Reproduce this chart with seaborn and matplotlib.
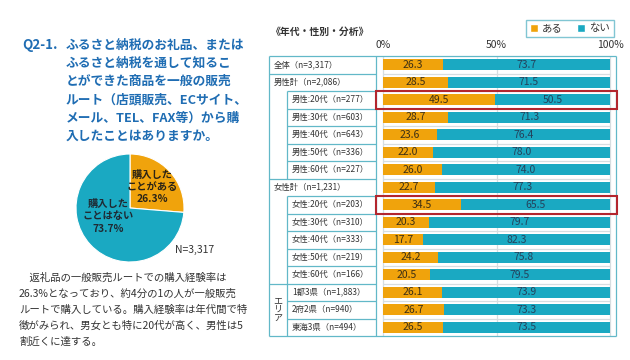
import matplotlib
matplotlib.use('Agg')
import matplotlib.pyplot as plt
from matplotlib.patches import Rectangle, Patch
import pandas as pd
import seaborn as sns

# ---------------- data ----------------
categories = ['全体（n=3,317）', '男性計（n=2,086）',
              '男性:20代（n=277）', '男性:30代（n=603）', '男性:40代（n=643）',
              '男性:50代（n=336）', '男性:60代（n=227）',
              '女性計（n=1,231）',
              '女性:20代（n=203）', '女性:30代（n=310）', '女性:40代（n=333）',
              '女性:50代（n=219）', '女性:60代（n=166）',
              '1都3県（n=1,883）', '2府2県（n=940）', '東海3県（n=494）']
aru = [26.3, 28.5, 49.5, 28.7, 23.6, 22.0, 26.0, 22.7, 34.5, 20.3, 17.7, 24.2, 20.5, 26.1, 26.7, 26.5]
nai = [73.7, 71.5, 50.5, 71.3, 76.4, 78.0, 74.0, 77.3, 65.5, 79.7, 82.3, 75.8, 79.5, 73.9, 73.3, 73.5]
groups = ['全体', '男性', '男性', '男性', '男性', '男性', '男性',
          '女性', '女性', '女性', '女性', '女性', '女性',
          'エリア', 'エリア', 'エリア']
indent = [0, 0, 1, 1, 1, 1, 1, 0, 1, 1, 1, 1, 1, 1, 1, 1]
highlight_rows = ['男性:20代（n=277）', '女性:20代（n=203）']
series_names = ['ある', 'ない']
tick_values = [0, 50, 100]
tick_labels = ['0%', '50%', '100%']
area_label = 'エリア'
chart_title = '《年代・性別・分析》'

pie_values = [26.3, 73.7]
pie_labels = ['購入した\nことがある\n26.3%', '購入した\nことはない\n73.7%']
pie_n = 'N=3,317'

question_prefix = 'Q2-1.'
question_lines = ['ふるさと納税のお礼品、または',
                  'ふるさと納税を通して知るこ',
                  'とができた商品を一般の販売',
                  'ルート（店頭販売、ECサイト、',
                  'メール、TEL、FAX等）から購',
                  '入したことはありますか。']
body_lines = ['\u3000返礼品の一般販売ルートでの購入経験率は',
              '26.3%となっており、約4分の1の人が一般販売',
              'ルートで購入している。購入経験率は年代間で特',
              '徴がみられ、男女とも特に20代が高く、男性は5',
              '割近くに達する。']

# ---------------- style ----------------
ORANGE = '#f0a30c'
TEAL = '#1aa9c2'
LINE = '#62b8c8'
RED = '#b3262e'
GRID = '#d6dde0'
TXT = '#333333'
BLUE = '#1f6db3'

sns.set_theme(style='white')
plt.rcParams['font.family'] = ['Noto Sans CJK JP', 'DejaVu Sans']

W, H = 630, 360
fig = plt.figure(figsize=(6.3, 3.6), dpi=100)
fig.patch.set_facecolor('white')


def fx(x):
    return x / W


def fy(y):
    return 1 - y / H


# table geometry (pixels)
T_LEFT, T_DIV, T_RIGHT = 269, 376, 616
T_TOP, T_BOT = 56, 336
X0, X100 = 383, 610
n = len(categories)
row_h = (T_BOT - T_TOP) / n
ppu = (X100 - X0) / 100.0
xmin = (T_DIV - X0) / ppu
xmax = (T_RIGHT - X0) / ppu

# ---------------- bar chart ----------------
ax = fig.add_axes([fx(T_DIV), fy(T_BOT), (T_RIGHT - T_DIV) / W, (T_BOT - T_TOP) / H])
df = pd.DataFrame({'label': categories, series_names[0]: aru, series_names[1]: nai})
df['total'] = df[series_names[0]] + df[series_names[1]]
sns.barplot(data=df, y='label', x='total', color=TEAL, saturation=1, width=0.63,
            linewidth=0, orient='h', ax=ax, zorder=2)
sns.barplot(data=df, y='label', x=series_names[0], color=ORANGE, saturation=1, width=0.63,
            linewidth=0, orient='h', ax=ax, zorder=3)
ax.set_xlim(xmin, xmax)
ax.set_ylim(n - 0.5, -0.5)
ax.set_facecolor('none')
for s in ax.spines.values():
    s.set_visible(False)
for v in tick_values:
    ax.axvline(v, color=GRID, lw=0.9, zorder=1)
for i in range(n - 1):
    ax.plot([0, 100], [i + 0.5, i + 0.5], color=GRID, lw=0.9, zorder=1)
ax.set_yticks([])
ax.xaxis.tick_top()
ax.set_xticks(tick_values)
ax.set_xticklabels(tick_labels, fontsize=7.5, color=TXT)
ax.tick_params(axis='x', length=0, pad=4)
ax.set_xlabel('')
ax.set_ylabel('')

for i, (a, b) in enumerate(zip(aru, nai)):
    ax.text(a / 2, i, f'{a:.1f}', ha='center', va='center', fontsize=7.5,
            color='#3d2f14', zorder=5)
    ax.text(a + b / 2, i, f'{b:.1f}', ha='center', va='center', fontsize=7.5,
            color='#24425c', zorder=5)

# ---------------- pie ----------------
PC_X, PC_Y, PR = 130, 208, 54
pax = fig.add_axes([fx(PC_X - PR), fy(PC_Y + PR), 2 * PR / W, 2 * PR / H])
pax.pie(pie_values, colors=[ORANGE, TEAL], startangle=90, counterclock=False,
        wedgeprops=dict(edgecolor='white', linewidth=0.8))
pax.set_xlim(-1, 1)
pax.set_ylim(-1, 1)
pax.set_aspect('equal')
pax.axis('off')

# ---------------- overlay (text & table lines) ----------------
ov = fig.add_axes([0, 0, 1, 1])
ov.set_xlim(0, W)
ov.set_ylim(H, 0)
ov.axis('off')
ov.patch.set_alpha(0)


def seg(x0, y0, x1, y1, c=LINE, lw=0.9):
    ov.plot([x0, x1], [y0, y1], color=c, lw=lw, solid_capstyle='butt')


# outer frame
seg(T_LEFT, T_TOP, T_RIGHT, T_TOP)
seg(T_LEFT, T_BOT, T_RIGHT, T_BOT)
seg(T_LEFT, T_TOP, T_LEFT, T_BOT)
seg(T_RIGHT, T_TOP, T_RIGHT, T_BOT)
seg(T_DIV, T_TOP, T_DIV, T_BOT)
IND = 287
for i in range(1, n):
    y = T_TOP + i * row_h
    x_start = T_LEFT if groups[i] != groups[i - 1] else IND
    seg(x_start, y, T_DIV, y)
# indent vertical lines
i = 0
while i < n:
    if indent[i] == 1:
        j = i
        while j + 1 < n and indent[j + 1] == 1 and groups[j + 1] == groups[i]:
            j += 1
        seg(IND, T_TOP + i * row_h, IND, T_TOP + (j + 1) * row_h)
        i = j + 1
    else:
        i += 1

# row labels
for i, lab in enumerate(categories):
    x = 274 if indent[i] == 0 else 292
    ov.text(x, T_TOP + (i + 0.5) * row_h, lab, ha='left', va='center',
            fontsize=6.0, color=TXT)
area_rows = [k for k, g in enumerate(groups) if g == area_label]
ov.text((T_LEFT + IND) / 2, T_TOP + (min(area_rows) + max(area_rows) + 1) / 2 * row_h,
        '\n'.join(area_label), ha='center', va='center', fontsize=6.5,
        color=TXT, linespacing=1.0)

# highlight boxes
for lab in highlight_rows:
    k = categories.index(lab)
    ov.add_patch(Rectangle((T_DIV, T_TOP + k * row_h), T_RIGHT + 1 - T_DIV, row_h,
                           fill=False, ec=RED, lw=1.5, zorder=6))

# title
ov.text(271, 32, chart_title, ha='left', va='center', fontsize=7.1,
        fontweight='bold', color=TXT)

# legend
handles = [Patch(facecolor=ORANGE, label=series_names[0]),
           Patch(facecolor=TEAL, label=series_names[1])]
leg = fig.legend(handles=handles, loc='center', bbox_to_anchor=(fx(570), fy(28.5)),
                 ncol=2, frameon=True, fancybox=False, fontsize=7.5,
                 handlelength=0.75, handleheight=0.75, handletextpad=0.4,
                 columnspacing=1.4, borderpad=0.35)
leg.get_frame().set_edgecolor(LINE)
leg.get_frame().set_linewidth(1.0)
for t in leg.get_texts():
    t.set_color(TXT)

# question
q_ys = [45, 63.3, 81.7, 100, 118.3, 136.7]
ov.text(22, q_ys[0], question_prefix, ha='left', va='center', fontsize=9.6,
        fontweight='bold', color=BLUE)
for y, line in zip(q_ys, question_lines):
    ov.text(66, y, line, ha='left', va='center', fontsize=9.2,
            fontweight='bold', color=BLUE)

# pie labels
ov.text(152, 187, pie_labels[0], ha='center', va='center', fontsize=7.4,
        fontweight='bold', color='#2b2416', linespacing=1.25)
ov.text(108, 216.5, pie_labels[1], ha='center', va='center', fontsize=7.4,
        fontweight='bold', color='#1f2a33', linespacing=1.25)
ov.text(175, 250, pie_n, ha='left', va='center', fontsize=7.5, color=TXT)

# body text
b_ys = [278, 294, 310, 326, 342]
for y, line in zip(b_ys, body_lines):
    ov.text(19, y, line, ha='left', va='center', fontsize=7.5, color=TXT)

fig.savefig('out.png', dpi=100)
